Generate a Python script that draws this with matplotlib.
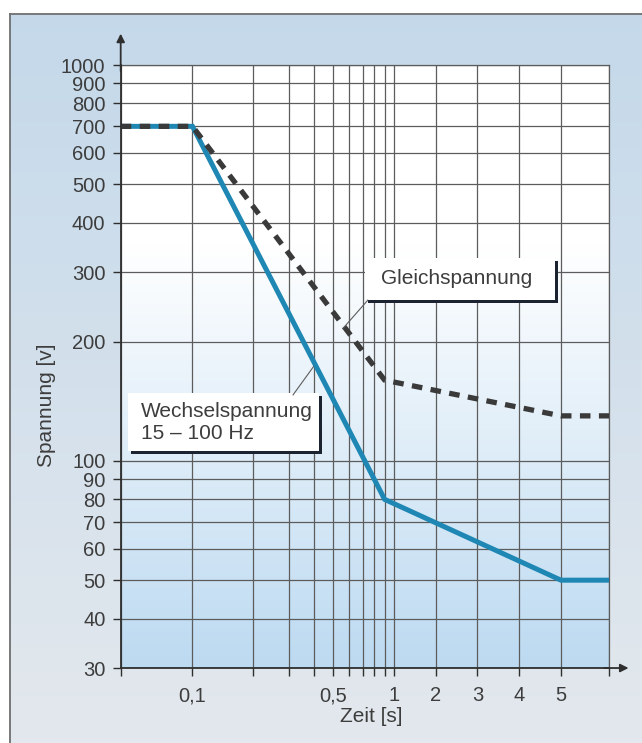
import numpy as np
import matplotlib
matplotlib.use("Agg")
import matplotlib.pyplot as plt
from matplotlib.patches import Rectangle
from matplotlib import patheffects

# Kennlinien
zeit_wechsel = [0.044, 0.1, 0.9, 5.0, 6.15]
spannung_wechsel = [700, 700, 80, 50, 50]
zeit_gleich = [0.044, 0.1, 0.9, 5.0, 6.15]
spannung_gleich = [700, 700, 160, 130, 130]

x_lim = (0.044, 6.15)
x_ticks = [0.044, 0.1, 0.2, 0.3, 0.4, 0.5, 0.6, 0.7, 0.8, 0.9, 1, 2, 3, 4, 5, 6.15]
x_labels = ["", "0,1", "", "", "", "0,5", "", "", "", "", "1", "2", "3", "4", "5", ""]
y_lim = (30, 1000)
y_ticks = [30, 40, 50, 60, 70, 80, 90, 100, 200, 300, 400, 500, 600, 700, 800, 900, 1000]
y_labels = [str(v) for v in y_ticks]

txt_col = "#3d3d3d"
grid_col = "#5c5c5c"
axis_col = "#2f2f2f"
blau = "#1f87b3"
grau = "#3a3a3a"

plt.rcParams["font.family"] = ["Liberation Sans", "DejaVu Sans"]

# Zeitachse: bis 1 s logarithmisch, danach linear
K = 0.2075


def fwd(x):
    x = np.asarray(x, dtype=float)
    with np.errstate(divide="ignore", invalid="ignore"):
        return np.where(x <= 1, np.log10(np.clip(x, 1e-9, None)), (x - 1) * K)


def inv(y):
    y = np.asarray(y, dtype=float)
    return np.where(y <= 0, 10.0 ** np.minimum(y, 0), 1 + y / K)


fig = plt.figure(figsize=(6.42, 7.43), dpi=100)

# Hintergrund (Rahmen mit Verlauf)
bg = fig.add_axes([0, 0, 1, 1], zorder=-5)
bg.set_xlim(0, 642)
bg.set_ylim(743, 0)
bg.axis("off")
top = np.array([0.77, 0.85, 0.92])
bot = np.array([0.89, 0.91, 0.93])
t = np.linspace(0, 1, 256)[:, None, None]
grad = top * (1 - t) + bot * t
bg.imshow(grad, extent=(10, 642, 743, 14), aspect="auto", interpolation="bilinear")
bg.plot([10, 642], [14, 14], color="#6f6f6f", lw=1.3)
bg.plot([10, 10], [14, 743], color="#6f6f6f", lw=1.3)

ax = fig.add_axes([0.188, 0.1009, 0.7606, 0.8116])
ax.set_xscale("function", functions=(fwd, inv))
ax.set_yscale("log")
ax.set_xlim(*x_lim)
ax.set_ylim(*y_lim)

# Verlauf im Diagramm: oben weiss, unten hellblau
s = np.linspace(0, 1, 256)
w = np.clip(s / 0.70, 0, 1)[:, None, None]
blue_bot = np.array([0.74, 0.855, 0.945])
area = blue_bot * (1 - w) + np.ones(3) * w
ax.imshow(area, extent=(0, 1, 0, 1), transform=ax.transAxes, origin="lower",
          aspect="auto", zorder=0, interpolation="bilinear")

ax.plot(zeit_wechsel, spannung_wechsel, color=blau, lw=3.6, zorder=3,
        solid_joinstyle="miter")
ax.plot(zeit_gleich, spannung_gleich, color=grau, lw=3.8, zorder=3.5,
        dashes=(2.0, 1.6))

ax.set_xticks(x_ticks)
ax.set_xticklabels(x_labels)
ax.set_yticks(y_ticks)
ax.set_yticklabels(y_labels)
ax.minorticks_off()
ax.tick_params(axis="both", direction="out", length=6, width=1, color=axis_col,
               labelsize=14.5, labelcolor=txt_col)
ax.tick_params(axis="x", pad=7)
ax.tick_params(axis="y", pad=5)
ax.grid(True, color=grid_col, lw=0.9, zorder=1)
ax.set_axisbelow(False)
for gl in ax.get_xgridlines() + ax.get_ygridlines():
    gl.set_zorder(1)

for side in ("top", "right"):
    ax.spines[side].set_color(grid_col)
    ax.spines[side].set_linewidth(0.9)
for side in ("left", "bottom"):
    ax.spines[side].set_color(axis_col)
    ax.spines[side].set_linewidth(1.3)
    ax.spines[side].set_zorder(5)

# Achsenpfeile
ax.annotate("", xy=(0, 1.052), xytext=(0, 0.99), xycoords="axes fraction",
            arrowprops=dict(arrowstyle="-|>", color=axis_col, lw=1.3,
                            mutation_scale=12, shrinkA=0, shrinkB=0),
            annotation_clip=False)
ax.annotate("", xy=(1.040, 0), xytext=(0.99, 0), xycoords="axes fraction",
            arrowprops=dict(arrowstyle="-|>", color=axis_col, lw=1.3,
                            mutation_scale=12, shrinkA=0, shrinkB=0),
            annotation_clip=False)

ax.set_xlabel("Zeit [s]", fontsize=15, color=txt_col)
ax.xaxis.label.set_va("center")
ax.xaxis.set_label_coords(0.5126, -0.081)
ax.set_ylabel("Spannung [v]", fontsize=15, color=txt_col)
ax.yaxis.label.set_va("center")
ax.yaxis.set_label_coords(-0.1515, 0.436)

# Beschriftungskästen mit Schatten
shadow = [patheffects.withSimplePatchShadow(offset=(2.2, -2.2),
                                            shadow_rgbFace="#1b2230", alpha=1.0)]
box_g = Rectangle((0.500, 0.610), 0.389, 0.070, transform=ax.transAxes,
                  fc="white", ec="none", zorder=6)
box_g.set_path_effects(shadow)
ax.add_patch(box_g)
ax.text(0.533, 0.646, "Gleichspannung", transform=ax.transAxes, fontsize=15,
        color=txt_col, ha="left", va="center", zorder=7)
ax.plot([0.506, 0.455], [0.610, 0.563], transform=ax.transAxes, color=grid_col,
        lw=0.8, zorder=6)

box_w = Rectangle((0.015, 0.360), 0.391, 0.096, transform=ax.transAxes,
                  fc="white", ec="none", zorder=6)
box_w.set_path_effects(shadow)
ax.add_patch(box_w)
ax.text(0.0416, 0.407, "Wechselspannung\n15 \u2013 100 Hz", transform=ax.transAxes,
        fontsize=15, color=txt_col, ha="left", va="center", linespacing=1.15,
        zorder=7)
ax.plot([0.353, 0.395], [0.453, 0.500], transform=ax.transAxes, color=grid_col,
        lw=0.8, zorder=6)

fig.savefig("out.png", dpi=100)
